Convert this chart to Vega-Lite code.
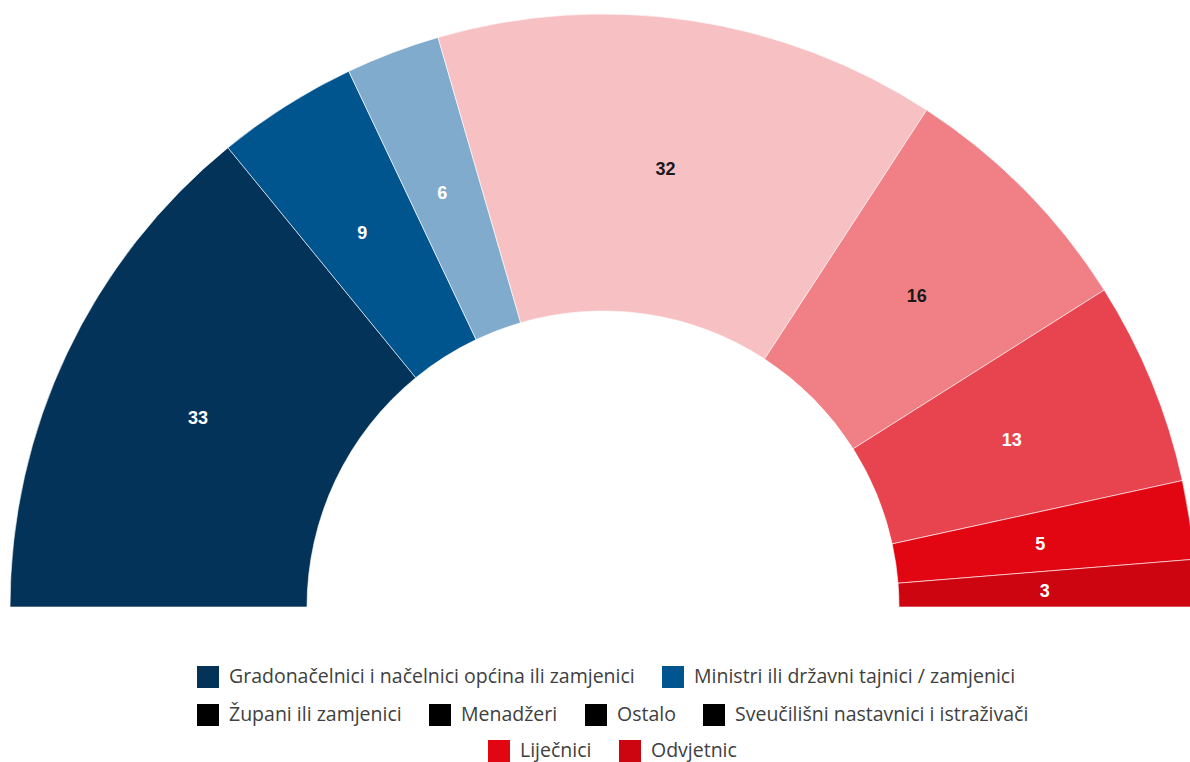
{
  "$schema": "https://vega.github.io/schema/vega-lite/v6.json",
  "width": 1190,
  "height": 607,
  "padding": 0,
  "background": "white",
  "data": {
    "values": [
      {"kategorija": "Gradonačelnici i načelnici općina ili zamjenici", "broj": 33},
      {"kategorija": "Ministri ili državni tajnici / zamjenici", "broj": 9},
      {"kategorija": "Župani ili zamjenici", "broj": 6},
      {"kategorija": "Menadžeri", "broj": 32},
      {"kategorija": "Ostalo", "broj": 16},
      {"kategorija": "Sveučilišni nastavnici i istraživači", "broj": 13},
      {"kategorija": "Liječnici", "broj": 5},
      {"kategorija": "Odvjetnic", "broj": 3}
    ]
  },
  "layer": [
    {
      "transform": [
        {"stack": "broj", "groupby": [], "as": ["t0", "t1"]},
        {"filter": {"field": "kategorija", "oneOf": ["Gradonačelnici i načelnici općina ili zamjenici", "Ministri ili državni tajnici / zamjenici"]}}
      ],
      "mark": {"type": "arc", "radius": 593, "radius2": 296, "x": {"expr": "width / 2 + 8"}, "y": "height", "stroke": "white", "strokeWidth": 0.6},
      "encoding": {
        "theta": {"field": "t0", "type": "quantitative", "scale": {"domain": [0, 117], "range": [-1.5708, 1.5708]}},
        "theta2": {"field": "t1"},
        "color": {
          "field": "kategorija", "type": "nominal",
          "scale": {
            "domain": ["Gradonačelnici i načelnici općina ili zamjenici", "Ministri ili državni tajnici / zamjenici"],
            "range": ["#04335A", "#00558F"]
          },
          "legend": {"orient": "none", "legendX": 197, "legendY": 666, "direction": "horizontal"}
        }
      }
    },
    {
      "transform": [
        {"stack": "broj", "groupby": [], "as": ["t0", "t1"]},
        {"filter": {"field": "kategorija", "oneOf": ["Župani ili zamjenici", "Menadžeri", "Ostalo", "Sveučilišni nastavnici i istraživači"]}}
      ],
      "mark": {"type": "arc", "radius": 593, "radius2": 296, "x": {"expr": "width / 2 + 8"}, "y": "height", "stroke": "white", "strokeWidth": 0.6},
      "encoding": {
        "theta": {"field": "t0", "type": "quantitative"},
        "theta2": {"field": "t1"},
        "color": {
          "field": "kategorija", "type": "nominal",
          "scale": {
            "domain": ["Župani ili zamjenici", "Menadžeri", "Ostalo", "Sveučilišni nastavnici i istraživači"],
            "range": ["#80ABCD", "#F7C1C4", "#F08086", "#E8444F"]
          },
          "legend": null
        }
      }
    },
    {
      "transform": [
        {"filter": {"field": "kategorija", "oneOf": ["Župani ili zamjenici", "Menadžeri", "Ostalo", "Sveučilišni nastavnici i istraživači"]}}
      ],
      "mark": {"type": "point", "filled": true, "opacity": 0, "shape": "square"},
      "encoding": {
        "color": {
          "field": "kategorija", "type": "nominal",
          "scale": {
            "domain": ["Župani ili zamjenici", "Menadžeri", "Ostalo", "Sveučilišni nastavnici i istraživači"],
            "range": ["black", "black", "black", "black"]
          },
          "legend": {"orient": "none", "legendX": 197, "legendY": 704, "direction": "horizontal"}
        }
      }
    },
    {
      "transform": [
        {"stack": "broj", "groupby": [], "as": ["t0", "t1"]},
        {"filter": {"field": "kategorija", "oneOf": ["Liječnici", "Odvjetnic"]}}
      ],
      "mark": {"type": "arc", "radius": 593, "radius2": 296, "x": {"expr": "width / 2 + 8"}, "y": "height", "stroke": "white", "strokeWidth": 0.6},
      "encoding": {
        "theta": {"field": "t0", "type": "quantitative"},
        "theta2": {"field": "t1"},
        "color": {
          "field": "kategorija", "type": "nominal",
          "scale": {
            "domain": ["Liječnici", "Odvjetnic"],
            "range": ["#E20613", "#CC0511"]
          },
          "legend": {"orient": "none", "legendX": 488, "legendY": 740, "direction": "horizontal"}
        }
      }
    },
    {
      "transform": [
        {"stack": "broj", "groupby": [], "as": ["t0", "t1"]},
        {"calculate": "(datum.t0 + datum.t1) / 2", "as": "sredina"}
      ],
      "mark": {"type": "text", "radius": 445, "x": {"expr": "width / 2 + 5"}, "y": "height", "dy": 3, "font": "Liberation Sans", "fontWeight": "bold", "fontSize": 18, "align": "center", "baseline": "middle"},
      "encoding": {
        "theta": {"field": "sredina", "type": "quantitative"},
        "text": {"field": "broj", "type": "quantitative"},
        "color": {
          "condition": {"test": "datum.kategorija === 'Menadžeri' || datum.kategorija === 'Ostalo'", "value": "#1a1a1a"},
          "value": "white"
        }
      }
    }
  ],
  "resolve": {"scale": {"color": "independent"}, "legend": {"color": "independent"}},
  "config": {
    "view": {"stroke": null},
    "legend": {
      "title": null,
      "symbolType": "square",
      "symbolSize": 484,
      "symbolStrokeWidth": 0,
      "symbolOpacity": 1,
      "labelFont": "Open Sans",
      "labelFontSize": 19.5,
      "labelColor": "#404040",
      "labelOffset": 10,
      "columnPadding": 27,
      "labelLimit": 600
    }
  }
}
